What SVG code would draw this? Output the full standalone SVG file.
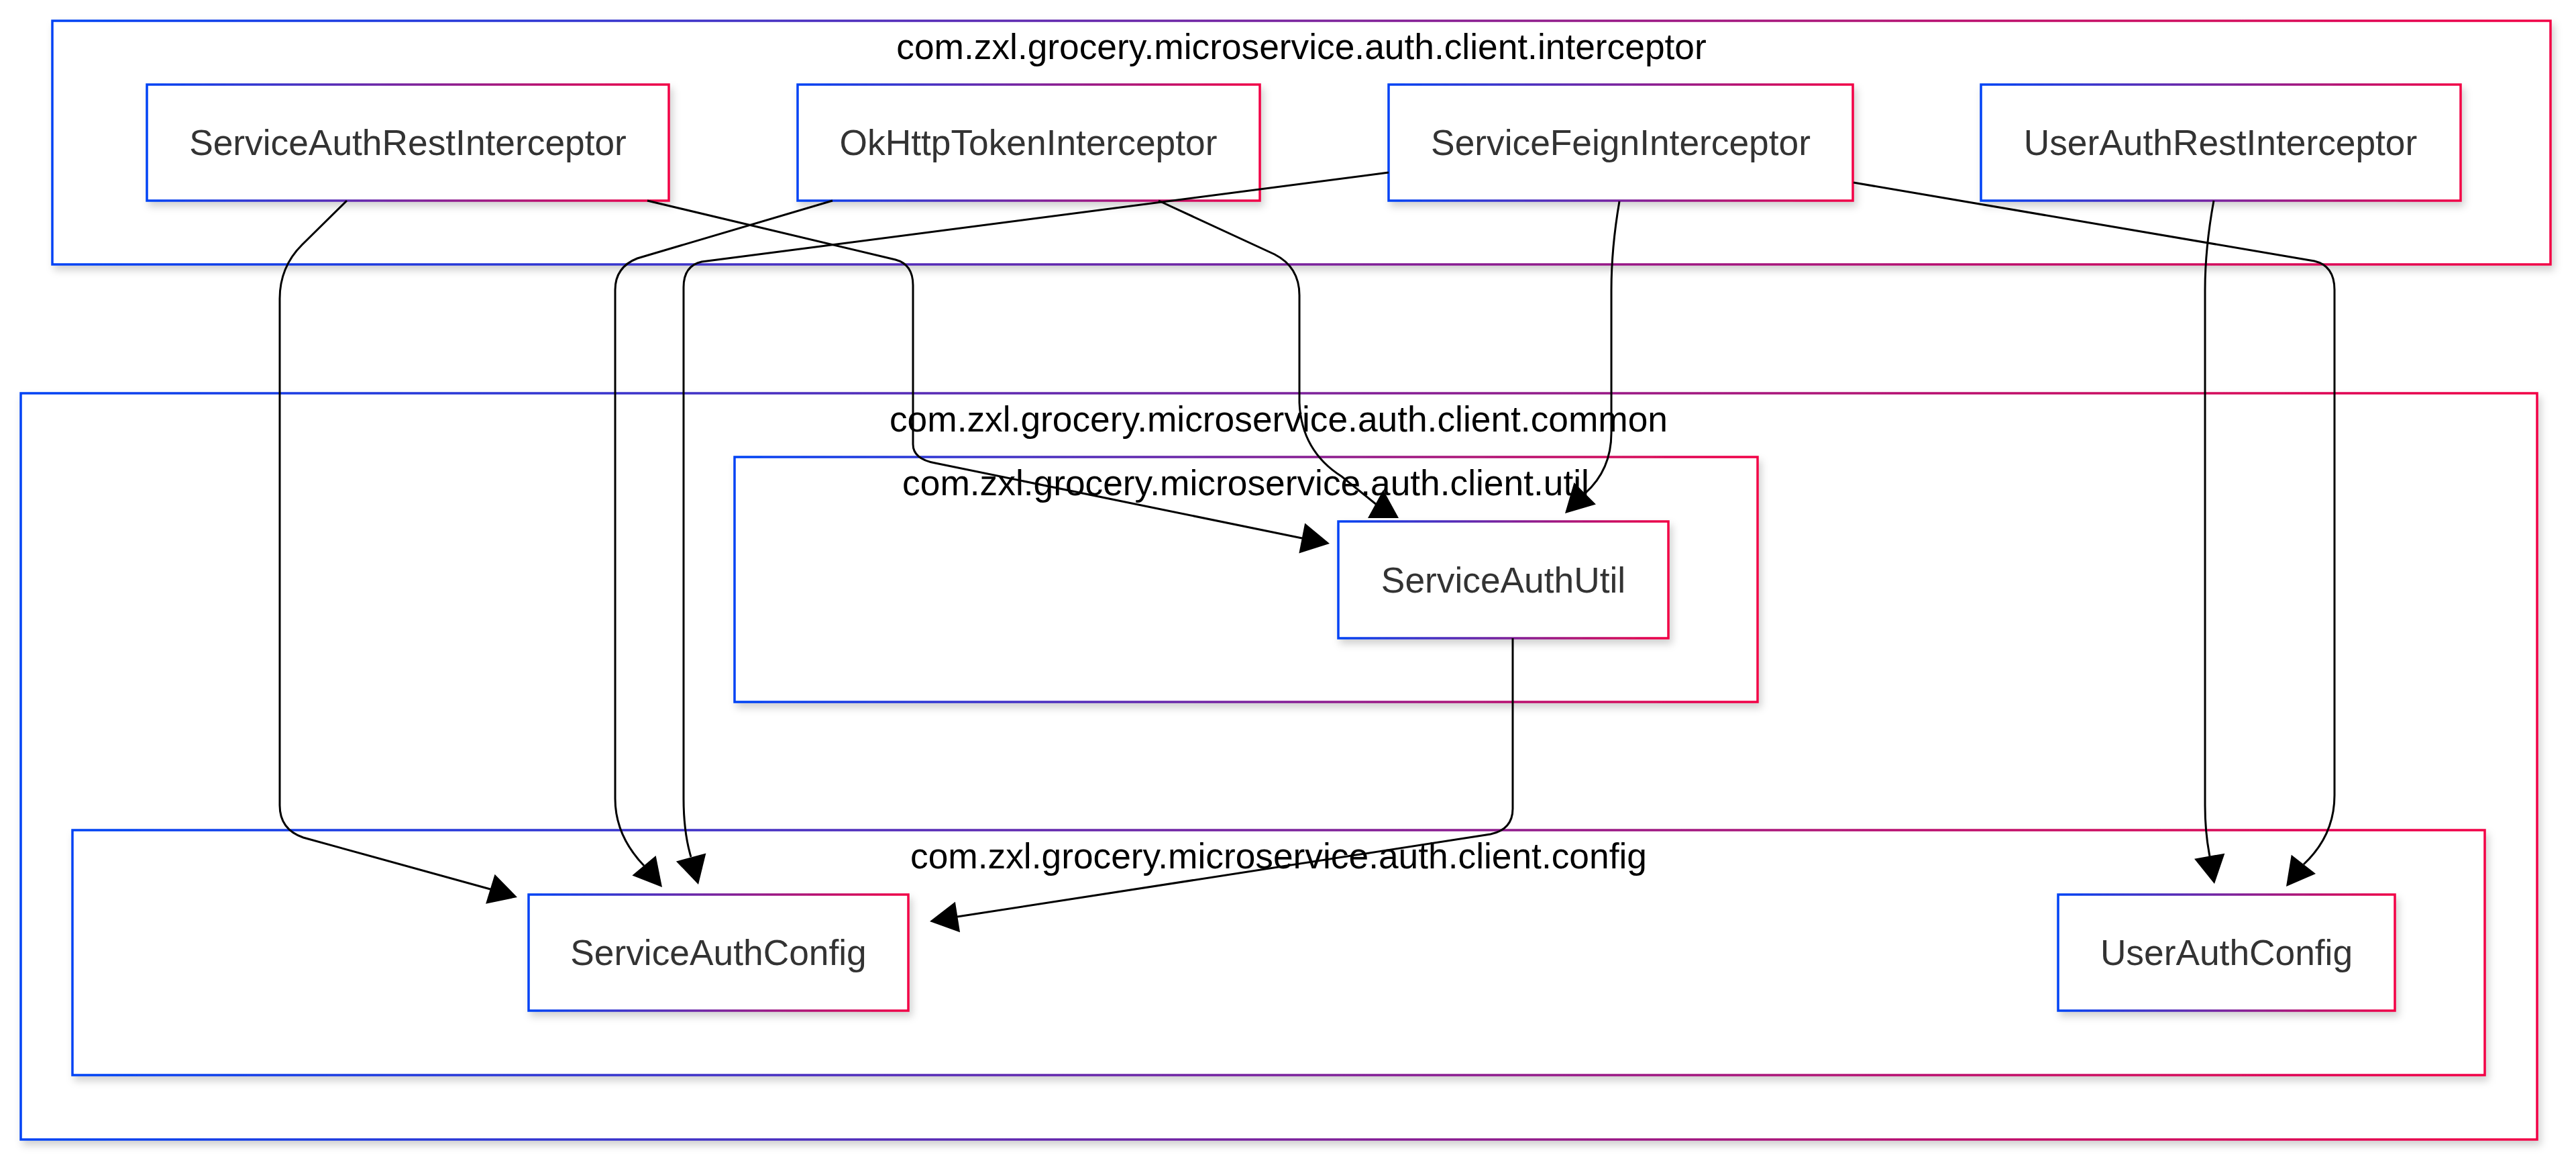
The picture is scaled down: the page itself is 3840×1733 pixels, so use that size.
<svg xmlns="http://www.w3.org/2000/svg" xmlns:xlink="http://www.w3.org/1999/xlink" width="3840" height="1733" viewBox="0 0 3840 1733">
<style>
.cl{fill:#ffffff;stroke:url(#g);stroke-width:3.5;filter:url(#sh)}
.nd{fill:#ffffff;stroke:url(#g);stroke-width:3.5;filter:url(#sh)}
.ct{font-family:"Liberation Sans",Arial,sans-serif;font-size:53.3px;fill:#000000;text-anchor:middle}
.nt{font-family:"Liberation Sans",Arial,sans-serif;font-size:53.3px;fill:#333333;text-anchor:middle}
.ed{fill:none;stroke:#000000;stroke-width:3}
.ah{fill:#000000}
</style>
<defs>
<linearGradient id="g" x1="0" y1="0" x2="1" y2="0">
<stop offset="0" stop-color="#0043f5"/>
<stop offset="1" stop-color="#f20045"/>
</linearGradient>
<filter id="sh" x="-5%" y="-10%" width="110%" height="125%">
<feDropShadow dx="4" dy="7" stdDeviation="6" flood-color="#000000" flood-opacity="0.18"/>
</filter>
<path id="ah" d="M0,0 L-42,-23 L-42,23 Z"/>
</defs>
<rect width="3840" height="1733" fill="#ffffff"/>

<g id="cluster-interceptor">
<rect class="cl" x="78" y="31" width="3724" height="363"/>
<text class="ct" x="1940" y="88">com.zxl.grocery.microservice.auth.client.interceptor</text>
</g>
<g id="cluster-common">
<rect class="cl" x="31" y="586" width="3751" height="1112"/>
<text class="ct" x="1906" y="643">com.zxl.grocery.microservice.auth.client.common</text>
</g>
<g id="cluster-util">
<rect class="cl" x="1095" y="681" width="1525" height="365"/>
<text class="ct" x="1857" y="738">com.zxl.grocery.microservice.auth.client.util</text>
</g>
<g id="cluster-config">
<rect class="cl" x="108" y="1237" width="3596" height="365"/>
<text class="ct" x="1906" y="1294">com.zxl.grocery.microservice.auth.client.config</text>
</g>

<g id="node-ServiceAuthRestInterceptor">
<rect class="nd" x="219" y="126" width="778" height="173"/>
<text class="nt" x="608" y="231">ServiceAuthRestInterceptor</text>
</g>
<g id="node-OkHttpTokenInterceptor">
<rect class="nd" x="1189" y="126" width="689" height="173"/>
<text class="nt" x="1533" y="231">OkHttpTokenInterceptor</text>
</g>
<g id="node-ServiceFeignInterceptor">
<rect class="nd" x="2070" y="126" width="692" height="173"/>
<text class="nt" x="2416" y="231">ServiceFeignInterceptor</text>
</g>
<g id="node-UserAuthRestInterceptor">
<rect class="nd" x="2953" y="126" width="715" height="173"/>
<text class="nt" x="3310" y="231">UserAuthRestInterceptor</text>
</g>
<g id="node-ServiceAuthUtil">
<rect class="nd" x="1995" y="777" width="492" height="174"/>
<text class="nt" x="2241" y="883">ServiceAuthUtil</text>
</g>
<g id="node-ServiceAuthConfig">
<rect class="nd" x="788" y="1333" width="566" height="173"/>
<text class="nt" x="1071" y="1438">ServiceAuthConfig</text>
</g>
<g id="node-UserAuthConfig">
<rect class="nd" x="3068" y="1333" width="502" height="173"/>
<text class="nt" x="3319" y="1438">UserAuthConfig</text>
</g>

<g id="connectors">
<path class="ed" d="M517,299 L450,365 Q417,398 417,445 L417,1200 Q417,1236 452,1248 L731,1325"/>
<path class="ed" d="M965,299 L1335,387 Q1361,394 1361,425 L1361,662 Q1361,684 1394,690 L1941,802"/>
<path class="ed" d="M1241,299 L950,385 Q917,398 917,432 L917,1190 Q917,1245 960,1290"/>
<path class="ed" d="M1727,299 L1900,379 Q1937,398 1937,440 L1937,600 Q1940,672 2000,710 L2052,752"/>
<path class="ed" d="M2070,257 L1046,390 Q1019,396 1019,428 L1019,1190 Q1019,1240 1030,1277"/>
<path class="ed" d="M2414,300 Q2402,370 2402,432 L2402,645 Q2402,700 2363,735"/>
<path class="ed" d="M2763,272 L3450,389 Q3480,396 3480,432 L3480,1185 Q3480,1245 3434,1288"/>
<path class="ed" d="M3300,299 Q3287,370 3287,432 L3287,1200 Q3287,1240 3294,1276"/>
<path class="ed" d="M2255,951 L2255,1205 Q2255,1236 2222,1243 L1427,1366"/>
<use class="ah" xlink:href="#ah" transform="translate(771,1337) rotate(17)"/>
<use class="ah" xlink:href="#ah" transform="translate(1982,810) rotate(11)"/>
<use class="ah" xlink:href="#ah" transform="translate(987,1322) rotate(50)"/>
<use class="ah" xlink:href="#ah" transform="translate(2062,730) rotate(-90)"/>
<use class="ah" xlink:href="#ah" transform="translate(1041,1318) rotate(75)"/>
<use class="ah" xlink:href="#ah" transform="translate(2333,765) rotate(135)"/>
<use class="ah" xlink:href="#ah" transform="translate(3408,1321) rotate(128)"/>
<use class="ah" xlink:href="#ah" transform="translate(3301,1317) rotate(80)"/>
<use class="ah" xlink:href="#ah" transform="translate(1386,1373) rotate(171)"/>
</g>
</svg>
